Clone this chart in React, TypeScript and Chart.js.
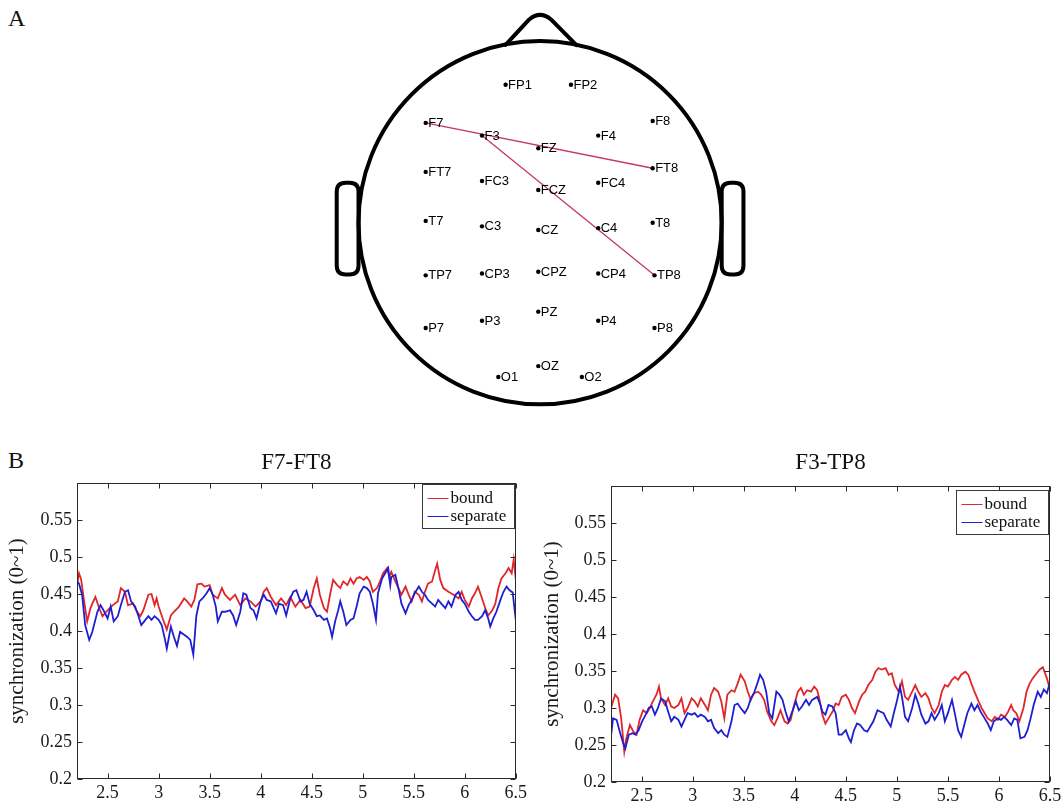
import React, { useEffect, useRef } from "react";
import { Chart, registerables } from "chart.js";

Chart.register(...registerables);

const SERIF = "'Liberation Serif', 'Times New Roman', serif";
const SANS = "'Liberation Sans', Arial, sans-serif";

// ---------- Panel A: electrode layout (head units, radius = 1) ----------
const electrodeNames = ["FP1", "FP2", "F7", "F3", "FZ", "F4", "F8", "FT7", "FC3", "FCZ", "FC4", "FT8", "T7", "C3", "CZ", "C4", "T8", "TP7", "CP3", "CPZ", "CP4", "TP8", "P7", "P3", "PZ", "P4", "P8", "O1", "OZ", "O2"];
const electrodeX = [-0.19, 0.17, -0.63, -0.32, -0.01, 0.32, 0.62, -0.63, -0.32, -0.01, 0.32, 0.62, -0.63, -0.32, -0.01, 0.32, 0.62, -0.63, -0.32, -0.01, 0.32, 0.63, -0.63, -0.32, -0.01, 0.32, 0.63, -0.23, -0.01, 0.23];
const electrodeY = [0.76, 0.76, 0.55, 0.48, 0.41, 0.48, 0.56, 0.28, 0.23, 0.18, 0.22, 0.3, 0.01, -0.02, -0.04, -0.03, 0.0, -0.29, -0.28, -0.27, -0.28, -0.29, -0.58, -0.54, -0.49, -0.54, -0.58, -0.85, -0.79, -0.85];
const connectionFrom = ["F7", "F3"];
const connectionTo = ["FT8", "TP8"];

// ---------- Panel B: synchronization time courses ----------
const xTicks = [2.5, 3, 3.5, 4, 4.5, 5, 5.5, 6, 6.5];
const yTicks = [0.2, 0.25, 0.3, 0.35, 0.4, 0.45, 0.5, 0.55];
const seriesNames = ["bound", "separate"];
const chartTitles = ["F7-FT8", "F3-TP8"];

const f7ft8BoundT = [2.2, 2.22, 2.24, 2.27, 2.3, 2.33, 2.35, 2.38, 2.42, 2.45, 2.5, 2.55, 2.6, 2.63, 2.67, 2.7, 2.75, 2.78, 2.82, 2.85, 2.9, 2.93, 2.96, 2.98, 3.0, 3.04, 3.08, 3.12, 3.15, 3.2, 3.25, 3.28, 3.32, 3.35, 3.38, 3.42, 3.45, 3.5, 3.53, 3.58, 3.62, 3.65, 3.7, 3.75, 3.8, 3.85, 3.9, 3.95, 4.0, 4.03, 4.06, 4.1, 4.15, 4.2, 4.25, 4.29, 4.34, 4.39, 4.44, 4.48, 4.52, 4.55, 4.58, 4.62, 4.65, 4.68, 4.71, 4.75, 4.78, 4.81, 4.85, 4.88, 4.91, 4.94, 4.97, 5.01, 5.04, 5.07, 5.1, 5.14, 5.17, 5.2, 5.24, 5.26, 5.28, 5.32, 5.35, 5.38, 5.42, 5.45, 5.48, 5.51, 5.55, 5.58, 5.61, 5.64, 5.68, 5.71, 5.73, 5.76, 5.79, 5.84, 5.89, 5.94, 5.97, 6.0, 6.04, 6.07, 6.1, 6.13, 6.17, 6.2, 6.23, 6.27, 6.3, 6.33, 6.36, 6.4, 6.43, 6.46, 6.48, 6.5];
const f7ft8BoundV = [0.462, 0.478, 0.47, 0.44, 0.413, 0.43, 0.437, 0.446, 0.43, 0.42, 0.428, 0.435, 0.44, 0.458, 0.453, 0.435, 0.437, 0.428, 0.42, 0.428, 0.449, 0.45, 0.435, 0.444, 0.433, 0.417, 0.402, 0.421, 0.426, 0.433, 0.444, 0.44, 0.433, 0.442, 0.463, 0.464, 0.46, 0.462, 0.449, 0.444, 0.458, 0.449, 0.442, 0.449, 0.435, 0.444, 0.44, 0.433, 0.44, 0.453, 0.458, 0.446, 0.435, 0.444, 0.435, 0.446, 0.433, 0.442, 0.431, 0.433, 0.458, 0.471, 0.449, 0.431, 0.426, 0.449, 0.469, 0.462, 0.458, 0.467, 0.462, 0.471, 0.464, 0.471, 0.473, 0.469, 0.473, 0.467, 0.453, 0.458, 0.467, 0.478, 0.485, 0.473, 0.48, 0.467, 0.458, 0.449, 0.46, 0.449, 0.44, 0.453, 0.449, 0.44, 0.453, 0.464, 0.467, 0.482, 0.491, 0.469, 0.458, 0.453, 0.449, 0.444, 0.453, 0.442, 0.433, 0.444, 0.451, 0.46, 0.444, 0.431, 0.421, 0.428, 0.437, 0.458, 0.471, 0.478, 0.485, 0.478, 0.497, 0.47];
const f7ft8SepT = [2.2, 2.22, 2.25, 2.28, 2.32, 2.35, 2.4, 2.43, 2.46, 2.5, 2.53, 2.56, 2.6, 2.63, 2.67, 2.7, 2.73, 2.77, 2.8, 2.83, 2.87, 2.9, 2.93, 2.96, 3.0, 3.03, 3.06, 3.08, 3.12, 3.15, 3.18, 3.21, 3.25, 3.28, 3.31, 3.34, 3.37, 3.4, 3.43, 3.47, 3.5, 3.53, 3.56, 3.58, 3.62, 3.65, 3.7, 3.73, 3.76, 3.8, 3.83, 3.86, 3.9, 3.93, 3.96, 4.0, 4.03, 4.06, 4.1, 4.15, 4.18, 4.22, 4.25, 4.29, 4.32, 4.35, 4.39, 4.42, 4.45, 4.48, 4.52, 4.55, 4.58, 4.62, 4.65, 4.68, 4.7, 4.73, 4.76, 4.78, 4.81, 4.84, 4.88, 4.91, 4.94, 4.97, 5.01, 5.04, 5.07, 5.1, 5.13, 5.15, 5.19, 5.22, 5.25, 5.27, 5.28, 5.32, 5.35, 5.38, 5.42, 5.45, 5.48, 5.51, 5.55, 5.58, 5.61, 5.64, 5.68, 5.71, 5.74, 5.77, 5.81, 5.84, 5.87, 5.91, 5.94, 5.97, 6.0, 6.04, 6.07, 6.1, 6.13, 6.17, 6.2, 6.23, 6.25, 6.28, 6.31, 6.35, 6.38, 6.41, 6.44, 6.47, 6.5];
const f7ft8SepV = [0.467, 0.464, 0.449, 0.408, 0.388, 0.399, 0.426, 0.435, 0.428, 0.417, 0.433, 0.413, 0.42, 0.435, 0.453, 0.455, 0.44, 0.433, 0.421, 0.408, 0.415, 0.42, 0.415, 0.42, 0.415, 0.408, 0.39, 0.376, 0.406, 0.392, 0.38, 0.399, 0.395, 0.392, 0.388, 0.368, 0.421, 0.44, 0.444, 0.451, 0.458, 0.449, 0.433, 0.413, 0.426, 0.426, 0.428, 0.421, 0.408, 0.426, 0.451, 0.449, 0.431, 0.428, 0.417, 0.44, 0.449, 0.442, 0.44, 0.424, 0.437, 0.435, 0.421, 0.444, 0.453, 0.455, 0.44, 0.442, 0.453, 0.437, 0.428, 0.42, 0.421, 0.415, 0.417, 0.404, 0.392, 0.413, 0.428, 0.44, 0.426, 0.408, 0.415, 0.417, 0.433, 0.451, 0.46, 0.458, 0.453, 0.437, 0.415, 0.451, 0.471, 0.478, 0.485, 0.462, 0.473, 0.476, 0.458, 0.437, 0.424, 0.435, 0.442, 0.451, 0.46, 0.453, 0.449, 0.442, 0.437, 0.433, 0.442, 0.437, 0.431, 0.44, 0.433, 0.449, 0.453, 0.442, 0.437, 0.426, 0.42, 0.415, 0.415, 0.42, 0.428, 0.417, 0.406, 0.417, 0.426, 0.442, 0.453, 0.46, 0.455, 0.452, 0.415];

const f3tp8BoundT = [2.2, 2.24, 2.27, 2.3, 2.33, 2.35, 2.385, 2.42, 2.45, 2.48, 2.515, 2.55, 2.58, 2.61, 2.645, 2.67, 2.69, 2.73, 2.76, 2.79, 2.82, 2.86, 2.89, 2.92, 2.95, 2.99, 3.02, 3.05, 3.08, 3.12, 3.15, 3.18, 3.21, 3.25, 3.28, 3.31, 3.34, 3.38, 3.41, 3.44, 3.47, 3.51, 3.54, 3.57, 3.6, 3.64, 3.67, 3.7, 3.73, 3.77, 3.8, 3.83, 3.86, 3.9, 3.93, 3.96, 3.99, 4.03, 4.06, 4.09, 4.12, 4.16, 4.19, 4.22, 4.24, 4.27, 4.3, 4.33, 4.37, 4.4, 4.43, 4.46, 4.5, 4.53, 4.56, 4.59, 4.63, 4.66, 4.69, 4.72, 4.76, 4.79, 4.82, 4.85, 4.89, 4.92, 4.95, 4.98, 5.02, 5.05, 5.08, 5.11, 5.15, 5.18, 5.21, 5.24, 5.28, 5.31, 5.34, 5.37, 5.41, 5.44, 5.47, 5.5, 5.54, 5.57, 5.6, 5.63, 5.67, 5.7, 5.73, 5.76, 5.8, 5.83, 5.86, 5.89, 5.93, 5.96, 5.99, 6.02, 6.06, 6.09, 6.12, 6.14, 6.17, 6.2, 6.24, 6.27, 6.3, 6.33, 6.37, 6.4, 6.43, 6.47, 6.5];
const f3tp8BoundV = [0.3, 0.318, 0.313, 0.286, 0.241, 0.259, 0.277, 0.268, 0.264, 0.284, 0.297, 0.293, 0.3, 0.309, 0.318, 0.329, 0.313, 0.304, 0.313, 0.302, 0.3, 0.304, 0.313, 0.293, 0.3, 0.313, 0.309, 0.302, 0.313, 0.304, 0.297, 0.318, 0.327, 0.322, 0.309, 0.286, 0.318, 0.324, 0.322, 0.333, 0.345, 0.336, 0.322, 0.311, 0.32, 0.322, 0.318, 0.311, 0.295, 0.282, 0.277, 0.286, 0.297, 0.282, 0.279, 0.284, 0.302, 0.322, 0.327, 0.318, 0.324, 0.322, 0.329, 0.324, 0.313, 0.291, 0.279, 0.286, 0.295, 0.306, 0.304, 0.315, 0.318, 0.311, 0.3, 0.293, 0.309, 0.318, 0.322, 0.331, 0.338, 0.349, 0.354, 0.352, 0.354, 0.345, 0.347, 0.331, 0.322, 0.336, 0.315, 0.311, 0.322, 0.331, 0.322, 0.315, 0.32, 0.313, 0.3, 0.293, 0.304, 0.322, 0.331, 0.329, 0.338, 0.342, 0.338, 0.345, 0.349, 0.345, 0.333, 0.322, 0.309, 0.3, 0.293, 0.286, 0.282, 0.288, 0.284, 0.291, 0.288, 0.295, 0.304, 0.297, 0.293, 0.282, 0.3, 0.322, 0.333, 0.34, 0.347, 0.352, 0.355, 0.34, 0.325];
const f3tp8SepT = [2.2, 2.22, 2.255, 2.29, 2.32, 2.34, 2.375, 2.41, 2.44, 2.47, 2.505, 2.54, 2.57, 2.6, 2.63, 2.66, 2.69, 2.73, 2.76, 2.79, 2.82, 2.86, 2.89, 2.92, 2.95, 2.99, 3.02, 3.05, 3.08, 3.12, 3.15, 3.18, 3.21, 3.25, 3.28, 3.31, 3.34, 3.38, 3.41, 3.44, 3.47, 3.51, 3.54, 3.57, 3.6, 3.64, 3.66, 3.69, 3.72, 3.75, 3.78, 3.82, 3.85, 3.88, 3.91, 3.94, 3.98, 4.01, 4.04, 4.07, 4.11, 4.14, 4.17, 4.22, 4.25, 4.27, 4.3, 4.33, 4.37, 4.4, 4.43, 4.46, 4.5, 4.53, 4.55, 4.58, 4.61, 4.64, 4.68, 4.71, 4.74, 4.77, 4.81, 4.84, 4.87, 4.9, 4.94, 4.97, 5.0, 5.03, 5.05, 5.08, 5.11, 5.15, 5.18, 5.21, 5.24, 5.28, 5.31, 5.34, 5.37, 5.41, 5.44, 5.47, 5.5, 5.54, 5.57, 5.6, 5.63, 5.66, 5.69, 5.73, 5.76, 5.79, 5.82, 5.86, 5.89, 5.92, 5.95, 5.99, 6.02, 6.05, 6.08, 6.12, 6.15, 6.18, 6.21, 6.25, 6.28, 6.31, 6.34, 6.38, 6.41, 6.44, 6.47, 6.5];
const f3tp8SepV = [0.262, 0.286, 0.284, 0.266, 0.252, 0.245, 0.264, 0.266, 0.264, 0.27, 0.282, 0.291, 0.3, 0.302, 0.291, 0.3, 0.313, 0.309, 0.295, 0.282, 0.288, 0.284, 0.275, 0.284, 0.293, 0.291, 0.293, 0.288, 0.291, 0.288, 0.282, 0.284, 0.273, 0.266, 0.27, 0.264, 0.261, 0.282, 0.304, 0.306, 0.3, 0.293, 0.3, 0.313, 0.32, 0.336, 0.345, 0.338, 0.322, 0.293, 0.286, 0.322, 0.318, 0.311, 0.295, 0.282, 0.297, 0.309, 0.297, 0.302, 0.311, 0.304, 0.311, 0.315, 0.305, 0.295, 0.291, 0.304, 0.302, 0.293, 0.264, 0.264, 0.27, 0.259, 0.254, 0.27, 0.279, 0.277, 0.27, 0.268, 0.275, 0.282, 0.297, 0.295, 0.293, 0.284, 0.275, 0.293, 0.309, 0.329, 0.315, 0.288, 0.282, 0.3, 0.318, 0.306, 0.291, 0.279, 0.282, 0.293, 0.284, 0.293, 0.304, 0.282, 0.293, 0.311, 0.291, 0.27, 0.261, 0.277, 0.293, 0.306, 0.297, 0.304, 0.295, 0.286, 0.279, 0.27, 0.282, 0.286, 0.284, 0.288, 0.284, 0.277, 0.286, 0.284, 0.259, 0.261, 0.27, 0.286, 0.304, 0.322, 0.315, 0.325, 0.32, 0.335];

const BOUND_COLOR = "#e0262a";
const SEP_COLOR = "#1e1ed2";
const LINK_COLOR = "#c23a5c";

const toPoints = (t: number[], v: number[]) => t.map((x, i) => ({ x, y: v[i] }));

// ---------- plugins ----------
const headPlugin = {
  id: "headOutline",
  beforeDatasetsDraw(chart: any) {
    const { ctx, scales } = chart;
    const X = (v: number) => scales.x.getPixelForValue(v);
    const Y = (v: number) => scales.y.getPixelForValue(v);
    const cx = X(0), cy = Y(0);
    const r = X(1) - cx;
    ctx.save();
    ctx.strokeStyle = "#000";
    ctx.lineWidth = 4;
    ctx.lineJoin = "round";
    ctx.lineCap = "round";
    ctx.beginPath();
    ctx.arc(cx, cy, r, 0, Math.PI * 2);
    ctx.stroke();
    // nose
    ctx.beginPath();
    ctx.moveTo(X(-0.19), Y(0.98));
    ctx.lineTo(X(-0.06), Y(1.12));
    ctx.quadraticCurveTo(X(0), Y(1.17), X(0.06), Y(1.12));
    ctx.lineTo(X(0.2), Y(0.978));
    ctx.stroke();
    // ears
    const ear = (x0: number, x1: number) => {
      const left = X(x0), right = X(x1), top = Y(0.22), bottom = Y(-0.285);
      const rad = 9;
      ctx.beginPath();
      ctx.moveTo(left + rad, top);
      ctx.lineTo(right - rad, top);
      ctx.quadraticCurveTo(right, top, right, top + rad);
      ctx.lineTo(right, bottom - rad);
      ctx.quadraticCurveTo(right, bottom, right - rad, bottom);
      ctx.lineTo(left + rad, bottom);
      ctx.quadraticCurveTo(left, bottom, left, bottom - rad);
      ctx.lineTo(left, top + rad);
      ctx.quadraticCurveTo(left, top, left + rad, top);
      ctx.stroke();
    };
    ear(-1.12, -1.0);
    ear(1.0, 1.12);
    ctx.restore();
  },
  afterDatasetsDraw(chart: any) {
    const { ctx } = chart;
    const meta = chart.getDatasetMeta(0);
    ctx.save();
    ctx.fillStyle = "#000";
    ctx.font = `13px ${SANS}`;
    ctx.textBaseline = "middle";
    ctx.textAlign = "left";
    meta.data.forEach((el: any, i: number) => {
      ctx.fillText(electrodeNames[i], el.x + 2.5, el.y + 0.5);
    });
    ctx.restore();
  },
};

const framePlugin = {
  id: "matlabFrame",
  afterDraw(chart: any) {
    const { ctx, chartArea: a, scales } = chart;
    ctx.save();
    ctx.strokeStyle = "#2a2a2a";
    ctx.lineWidth = 1;
    const l = Math.round(a.left) + 0.5, r = Math.round(a.right) - 0.5;
    const t = Math.round(a.top) + 0.5, b = Math.round(a.bottom) - 0.5;
    ctx.strokeRect(l, t, r - l, b - t);
    const L = 5;
    ctx.beginPath();
    xTicks.forEach((v) => {
      const px = Math.round(scales.x.getPixelForValue(v)) + 0.5;
      ctx.moveTo(px, b); ctx.lineTo(px, b - L);
      ctx.moveTo(px, t); ctx.lineTo(px, t + L);
    });
    yTicks.forEach((v) => {
      const py = Math.round(scales.y.getPixelForValue(v)) + 0.5;
      ctx.moveTo(l, py); ctx.lineTo(l + L, py);
      ctx.moveTo(r, py); ctx.lineTo(r - L, py);
    });
    ctx.stroke();

    const opts = chart.options.plugins.matlabFrame || {};
    const w = 92, h = 44;
    const bx = Math.round(a.right) - 2 - w + 0.5;
    const by = Math.round(a.top) + (opts.legendInset ?? 1) + 0.5;
    ctx.fillStyle = "#fff";
    ctx.fillRect(bx, by, w, h);
    ctx.strokeStyle = "#3a3a3a";
    ctx.strokeRect(bx, by, w, h);
    ctx.font = `17px ${SERIF}`;
    ctx.textBaseline = "middle";
    ctx.textAlign = "left";
    chart.data.datasets.forEach((ds: any, i: number) => {
      const yy = by + 14 + i * 18;
      ctx.strokeStyle = ds.borderColor;
      ctx.lineWidth = 1;
      ctx.beginPath();
      ctx.moveTo(bx + 5, yy);
      ctx.lineTo(bx + 26, yy);
      ctx.stroke();
      ctx.fillStyle = "#111";
      ctx.fillText(ds.label, bx + 28, yy);
    });
    ctx.restore();
  },
};

function makeLineConfig(p: {
  title: string;
  boundT: number[]; boundV: number[]; sepT: number[]; sepV: number[];
  yAxisWidth: number; xAxisHeight: number; padRight: number;
  titleTop: number; titleBottom: number; yTitlePad: number; legendInset: number;
}) {
  return {
    type: "line",
    data: {
      datasets: [
        { label: seriesNames[0], data: toPoints(p.boundT, p.boundV), borderColor: BOUND_COLOR, borderWidth: 1.8, pointRadius: 0, tension: 0, order: 1 },
        { label: seriesNames[1], data: toPoints(p.sepT, p.sepV), borderColor: SEP_COLOR, borderWidth: 1.8, pointRadius: 0, tension: 0, order: 0 },
      ],
    },
    options: {
      responsive: false,
      animation: false,
      events: [],
      layout: { padding: { left: 0, right: p.padRight, top: 0, bottom: 0 } },
      plugins: {
        legend: { display: false },
        tooltip: { enabled: false },
        title: {
          display: true,
          text: p.title,
          fullSize: false,
          color: "#111",
          font: { family: SERIF, size: 23, weight: "normal" },
          padding: { top: p.titleTop, bottom: p.titleBottom },
        },
        matlabFrame: { legendInset: p.legendInset },
      },
      scales: {
        x: {
          type: "linear",
          min: 2.2,
          max: 6.5,
          afterBuildTicks: (s: any) => { s.ticks = xTicks.map((v) => ({ value: v })); },
          afterFit: (s: any) => { s.height = p.xAxisHeight; },
          grid: { display: false, drawTicks: false },
          border: { display: false },
          ticks: { padding: 3, autoSkip: false, maxRotation: 0, color: "#1a1a1a", font: { family: SERIF, size: 18 }, callback: (v: any) => String(v) },
        },
        y: {
          type: "linear",
          min: 0.2,
          max: 0.6,
          afterBuildTicks: (s: any) => { s.ticks = yTicks.map((v) => ({ value: v })); },
          afterFit: (s: any) => { s.width = p.yAxisWidth; },
          grid: { display: false, drawTicks: false },
          border: { display: false },
          ticks: { padding: 5, autoSkip: false, color: "#1a1a1a", font: { family: SERIF, size: 18 }, callback: (v: any) => String(v) },
          title: { display: true, text: "synchronization (0~1)", color: "#1a1a1a", font: { family: SERIF, size: 21 }, padding: { top: p.yTitlePad, bottom: 0 } },
        },
      },
    },
    plugins: [framePlugin],
  };
}

const lookup = (name: string) => {
  const i = electrodeNames.indexOf(name);
  return { x: electrodeX[i], y: electrodeY[i] };
};

const headConfig = {
  type: "scatter",
  data: {
    datasets: [
      {
        label: "electrodes",
        data: electrodeNames.map((_, i) => ({ x: electrodeX[i], y: electrodeY[i] })),
        pointRadius: 2.2,
        pointBackgroundColor: "#000",
        pointBorderWidth: 0,
        showLine: false,
      },
      ...connectionFrom.map((f, i) => ({
        label: `${f}-${connectionTo[i]}`,
        data: [lookup(f), lookup(connectionTo[i])],
        showLine: true,
        borderColor: LINK_COLOR,
        borderWidth: 1.3,
        pointRadius: 0,
      })),
    ],
  },
  options: {
    responsive: false,
    animation: false,
    events: [],
    layout: { padding: 0 },
    plugins: { legend: { display: false }, tooltip: { enabled: false } },
    scales: {
      x: { type: "linear", display: false, min: -1.135, max: 1.189 },
      y: { type: "linear", display: false, min: -1.065, max: 1.205 },
    },
  },
  plugins: [headPlugin],
};

function ChartCanvas({ config, left, top, width, height }: any) {
  const ref = useRef<HTMLCanvasElement>(null);
  useEffect(() => {
    const chart = new Chart(ref.current as HTMLCanvasElement, config as any);
    return () => chart.destroy();
  }, []);
  return (
    <canvas
      ref={ref}
      width={width}
      height={height}
      style={{ position: "absolute", left, top, width, height }}
    />
  );
}

const leftConfig = makeLineConfig({
  title: chartTitles[0],
  boundT: f7ft8BoundT, boundV: f7ft8BoundV, sepT: f7ft8SepT, sepV: f7ft8SepV,
  yAxisWidth: 77, xAxisHeight: 41, padRight: 13,
  titleTop: 9.2, titleBottom: 6.2, yTitlePad: 4.4, legendInset: 1,
});

const rightConfig = makeLineConfig({
  title: chartTitles[1],
  boundT: f3tp8BoundT, boundV: f3tp8BoundV, sepT: f3tp8SepT, sepV: f3tp8SepV,
  yAxisWidth: 81, xAxisHeight: 38, padRight: 40,
  titleTop: 9.2, titleBottom: 9.2, yTitlePad: 9.4, legendInset: 4,
});

export default function App() {
  return (
    <div style={{ position: "absolute", left: 0, top: 0, width: 1061, height: 803, overflow: "hidden", background: "#fff" }}>
      <div style={{ position: "absolute", left: 8, top: 6, fontFamily: SERIF, fontSize: 24, lineHeight: 1, color: "#111" }}>A</div>
      <div style={{ position: "absolute", left: 8, top: 448, fontFamily: SERIF, fontSize: 24, lineHeight: 1, color: "#111" }}>B</div>
      <ChartCanvas config={headConfig} left={330} top={0} width={430} height={420} />
      <ChartCanvas config={leftConfig} left={0} top={440} width={530} height={380} />
      <ChartCanvas config={rightConfig} left={530} top={440} width={560} height={380} />
    </div>
  );
}
